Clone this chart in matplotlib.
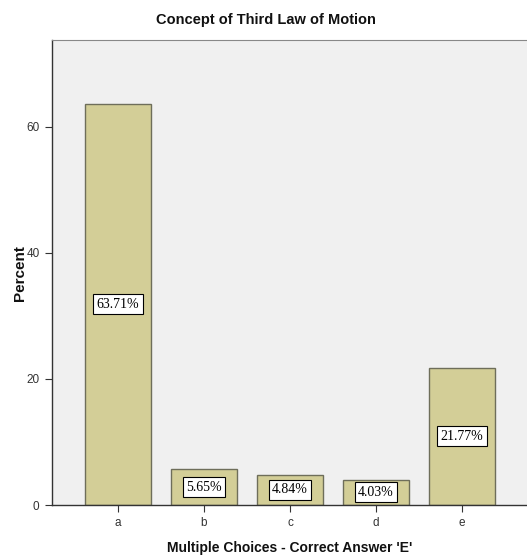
import matplotlib
matplotlib.use("Agg")
import matplotlib.pyplot as plt
from matplotlib import font_manager

categories = ["a", "b", "c", "d", "e"]
values = [63.71, 5.65, 4.84, 4.03, 21.77]
labels = ["63.71%", "5.65%", "4.84%", "4.03%", "21.77%"]
yticks = [0, 20, 40, 60]

names = {f.name for f in font_manager.fontManager.ttflist}
narrow = "Liberation Sans Narrow" if "Liberation Sans Narrow" in names else "Liberation Sans"

fig = plt.figure(figsize=(5.27, 5.58), dpi=100)
fig.patch.set_facecolor("white")
ax = fig.add_axes([52/527, 1-505/558, 1-52/527, 465/558])
ax.set_facecolor("#f0f0f0")

x = list(range(len(categories)))
bars = ax.bar(x, values, width=0.76, color="#d3ce97", edgecolor="#6e6e5a", linewidth=1.0, zorder=2)
for xi, v, lab in zip(x, values, labels):
    ax.text(xi, v/2, lab, ha="center", va="center", fontsize=10, family="Liberation Serif",
            bbox=dict(boxstyle="square,pad=0.25", facecolor="white", edgecolor="black", linewidth=0.8), zorder=3)

ax.set_xlim(-0.767, 4.756)
ax.set_ylim(0, 73.8)
ax.set_xticks(x)
ax.set_xticklabels(categories, fontsize=8.5, family=narrow, color="#333333")
ax.set_yticks(yticks)
ax.set_yticklabels([str(t) for t in yticks], fontsize=8.5, family=narrow, color="#333333")
ax.tick_params(axis="both", direction="out", length=5, width=0.8, colors="#333333", pad=4)
for s in ["left", "bottom"]:
    ax.spines[s].set_color("#333333")
    ax.spines[s].set_linewidth(1.0)
ax.spines["top"].set_color("#888888")
ax.spines["right"].set_visible(False)

fig.text(266/527, 1-20/558, "Concept of Third Law of Motion", ha="center", va="center",
         fontsize=10.5, family=narrow, weight="bold", color="#111111")
fig.text(290/527, 1-548/558, "Multiple Choices - Correct Answer 'E'", ha="center", va="center",
         fontsize=10, family=narrow, weight="bold", color="#111111")
fig.text(20/527, 1-273/558, "Percent", rotation=90, ha="center", va="center",
         fontsize=11, family="Liberation Sans", weight="bold", color="#111111")

fig.savefig("out.png", dpi=100)
